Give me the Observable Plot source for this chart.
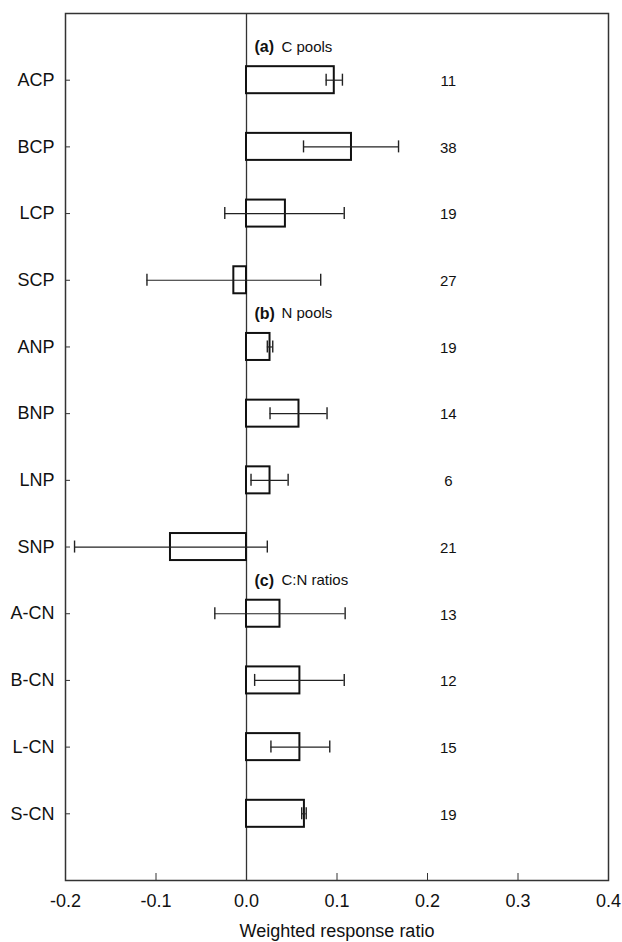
<!DOCTYPE html>
<html>
<head>
<meta charset="utf-8">
<script src="https://cdn.jsdelivr.net/npm/d3@7"></script>
<script src="https://cdn.jsdelivr.net/npm/@observablehq/plot@0.6"></script>
<style>
  html, body { margin: 0; padding: 0; background: #fff; }
  #chart svg { display: block; }
</style>
</head>
<body>
<div id="chart"></div>
<script>
const categories = ["ACP","BCP","LCP","SCP","ANP","BNP","LNP","SNP","A-CN","B-CN","L-CN","S-CN"];
const means = [0.097, 0.116, 0.043, -0.014, 0.026, 0.058, 0.026, -0.084, 0.037, 0.059, 0.059, 0.064];
const lower = [0.088, 0.063, -0.024, -0.110, 0.023, 0.026, 0.005, -0.190, -0.035, 0.009, 0.027, 0.061];
const upper = [0.106, 0.168, 0.108, 0.082, 0.029, 0.089, 0.046, 0.023, 0.109, 0.108, 0.092, 0.066];
const counts = [11, 38, 19, 27, 19, 14, 6, 21, 13, 12, 15, 19];
const groupTags = ["(a)", "(b)", "(c)"];
const groupTitles = ["C pools", "N pools", "C:N ratios"];
const groupFirst = ["ACP", "ANP", "A-CN"];
const xTicks = [-0.2, -0.1, 0.0, 0.1, 0.2, 0.3, 0.4];
const xDomain = [-0.2, 0.4];
const xTitle = "Weighted response ratio";
const countX = 0.223;

const rows = categories.map((c, i) => ({name: c, mean: means[i], lo: lower[i], hi: upper[i], n: counts[i]}));
const groups = groupTags.map((t, i) => ({tag: t, title: groupTitles[i], first: groupFirst[i]}));

const W = 622, H = 942;
const mTop = 13, mBottom = 62, mLeft = 65, mRight = 14;
const step = (H - mTop - mBottom) / (categories.length + 1);
const font = "Liberation Sans, Arial, Helvetica, sans-serif";

const chart = Plot.plot({
  width: W,
  height: H,
  marginTop: mTop,
  marginBottom: mBottom,
  marginLeft: mLeft,
  marginRight: mRight,
  style: {fontFamily: font, fontSize: "18px", color: "#111", background: "#fff"},
  x: {domain: xDomain, ticks: xTicks, label: null},
  y: {domain: categories, type: "band", paddingInner: 0.595, paddingOuter: 0.7975, round: false, label: null},
  marks: [
    Plot.ruleX([0], {stroke: "#333", strokeWidth: 1.3}),
    Plot.barX(rows, {x1: 0, x2: "mean", y: "name", fill: "white", stroke: "#111", strokeWidth: 2}),
    Plot.ruleY(rows, {y: "name", x1: "lo", x2: "hi", stroke: "#222", strokeWidth: 1.2}),
    Plot.tickX(rows, {x: "lo", y: "name", stroke: "#222", strokeWidth: 1.4, insetTop: 7.5, insetBottom: 7.5}),
    Plot.tickX(rows, {x: "hi", y: "name", stroke: "#222", strokeWidth: 1.4, insetTop: 7.5, insetBottom: 7.5}),
    Plot.text(rows, {x: () => countX, y: "name", text: d => String(d.n), fontSize: 15, fill: "#111", dy: 1}),
    Plot.text(groups, {x: () => 0, y: "first", text: "tag", textAnchor: "start", dx: 8, dy: -step / 2, fontSize: 16, fontWeight: "bold", fill: "#111"}),
    Plot.text(groups, {x: () => 0, y: "first", text: "title", textAnchor: "start", dx: 35, dy: -step / 2, fontSize: 15, fill: "#111"}),
    Plot.axisX({ticks: xTicks, tickSize: -7, tickPadding: 21, tickFormat: d => d.toFixed(1), stroke: "#333", label: null, fontSize: 18}),
    Plot.axisY({tickSize: -5, tickPadding: 16, stroke: "#333", label: null, fontSize: 18}),
    Plot.text([xTitle], {text: d => d, frameAnchor: "bottom", lineAnchor: "bottom", dy: 56, fontSize: 18, fill: "#111"}),
    Plot.frame({stroke: "#333", strokeWidth: 1.5})
  ]
});
document.getElementById("chart").appendChild(chart);
</script>
</body>
</html>
